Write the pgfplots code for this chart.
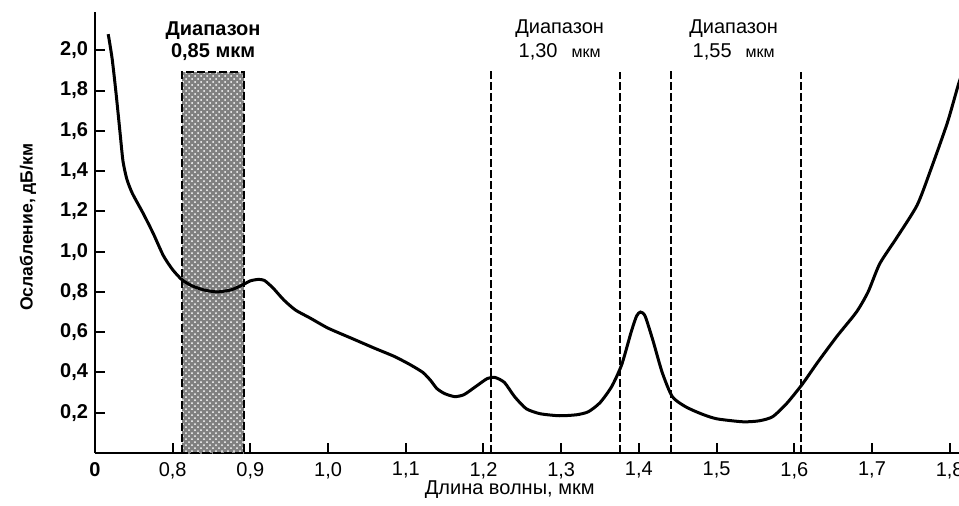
\documentclass[border=0pt]{standalone}
\usepackage{fontspec}
\setmainfont{Liberation Sans}
\usepackage{pgfplots}
\pgfplotsset{compat=1.18}
\usetikzlibrary{patterns}

\begin{document}
\begin{tikzpicture}
\useasboundingbox (-47.5pt,-26pt) rectangle (432pt,226.5pt);
\begin{axis}[
    at={(0pt,0pt)}, anchor=south west,
    scale only axis, width=432pt, height=220.5pt,
    xmin=0.7, xmax=1.812, ymin=0, ymax=2.19,
    axis lines=left,
    axis line style={-, line width=1.2pt},
    tick align=inside,
    major tick length=5pt,
    tick style={black, line width=1pt},
    xtick={0.7,0.8,0.9,1.0,1.1,1.2,1.3,1.4,1.5,1.6,1.7,1.8},
    xticklabels={\bfseries 0,{0,8},{0,9},{1,0},{1,1},{1,2},{1,3},{1,4},{1,5},{1,6},{1,7},{1,8}},
    ytick={0.2,0.4,0.6,0.8,1.0,1.2,1.4,1.6,1.8,2.0},
    yticklabels={{0,2},{0,4},{0,6},{0,8},{1,0},{1,2},{1,4},{1,6},{1,8},{2,0}},
    xticklabel style={font=\fontsize{10}{12}\selectfont, yshift=-1pt},
    yticklabel style={font=\fontsize{10}{12}\selectfont\bfseries},
    xlabel={Длина волны, мкм},
    xlabel style={at={(axis description cs:0.48,-0.084)}, anchor=center, font=\fontsize{10}{12}\selectfont},
    ylabel={Ослабление, дБ/км},
    ylabel style={at={(axis description cs:-0.0775,0.512)}, anchor=center, rotate=0, font=\fontsize{8.8}{11}\selectfont\bfseries},
    clip=true,
]
% band 0,85 um
\addplot[draw=black, dashed, dash pattern=on 4pt off 1.5pt, line width=1pt, fill=black!50,
    postaction={pattern=crosshatch dots, pattern color=white}]
    coordinates {(0.812,0) (0.812,1.89) (0.892,1.89) (0.892,0)} -- cycle;
% band borders 1,30 and 1,55 um
\addplot[black, line width=1pt, dash pattern=on 4pt off 1.5pt] coordinates {(1.210,0) (1.210,1.91)};
\addplot[black, line width=1pt, dash pattern=on 4pt off 1.5pt] coordinates {(1.376,0) (1.376,1.89)};
\addplot[black, line width=1pt, dash pattern=on 4pt off 1.5pt] coordinates {(1.441,0) (1.441,1.90)};
\addplot[black, line width=1pt, dash pattern=on 4pt off 1.5pt] coordinates {(1.608,0) (1.608,1.89)};
% attenuation curve
\addplot[black, line width=1.5pt, smooth, tension=0.4] coordinates {
(0.717,2.08) (0.722,1.96) (0.727,1.79) (0.732,1.60) (0.736,1.45) (0.741,1.36)
(0.748,1.29) (0.762,1.19) (0.775,1.09) (0.788,0.98) (0.800,0.91) (0.812,0.86)
(0.825,0.83) (0.840,0.81) (0.857,0.80) (0.875,0.81) (0.890,0.835) (0.900,0.855)
(0.910,0.862) (0.918,0.857) (0.929,0.82) (0.943,0.76) (0.958,0.71) (0.977,0.67)
(1.000,0.62) (1.030,0.57) (1.060,0.52) (1.085,0.48) (1.105,0.44) (1.122,0.40)
(1.132,0.36) (1.140,0.32) (1.150,0.295) (1.163,0.28) (1.175,0.29) (1.190,0.33)
(1.205,0.37) (1.215,0.375) (1.227,0.35) (1.240,0.28) (1.255,0.22) (1.273,0.195)
(1.298,0.185) (1.320,0.19) (1.335,0.205) (1.350,0.25) (1.365,0.33) (1.378,0.44)
(1.390,0.60) (1.397,0.68) (1.402,0.70) (1.408,0.68) (1.418,0.56) (1.430,0.40)
(1.443,0.28) (1.460,0.23) (1.480,0.195) (1.500,0.17) (1.534,0.155) (1.555,0.16)
(1.572,0.18) (1.590,0.245) (1.610,0.34) (1.630,0.45) (1.655,0.58) (1.680,0.70)
(1.695,0.80) (1.710,0.94) (1.732,1.07) (1.758,1.23) (1.775,1.40) (1.797,1.64)
(1.812,1.84) (1.820,1.92)
};
\node[align=center, font=\fontsize{10}{11}\selectfont\bfseries] at (axis cs:0.852,2.045) {Диапазон\\0,85 мкм};
\node[align=center, font=\fontsize{10}{12}\selectfont] at (axis cs:1.298,2.05) {Диапазон\\1,30\hspace{7pt}{\fontsize{8}{10}\selectfont мкм}};
\node[align=center, font=\fontsize{10}{12}\selectfont] at (axis cs:1.522,2.05) {Диапазон\\1,55\hspace{7pt}{\fontsize{8}{10}\selectfont мкм}};
\end{axis}
\end{tikzpicture}
\end{document}
